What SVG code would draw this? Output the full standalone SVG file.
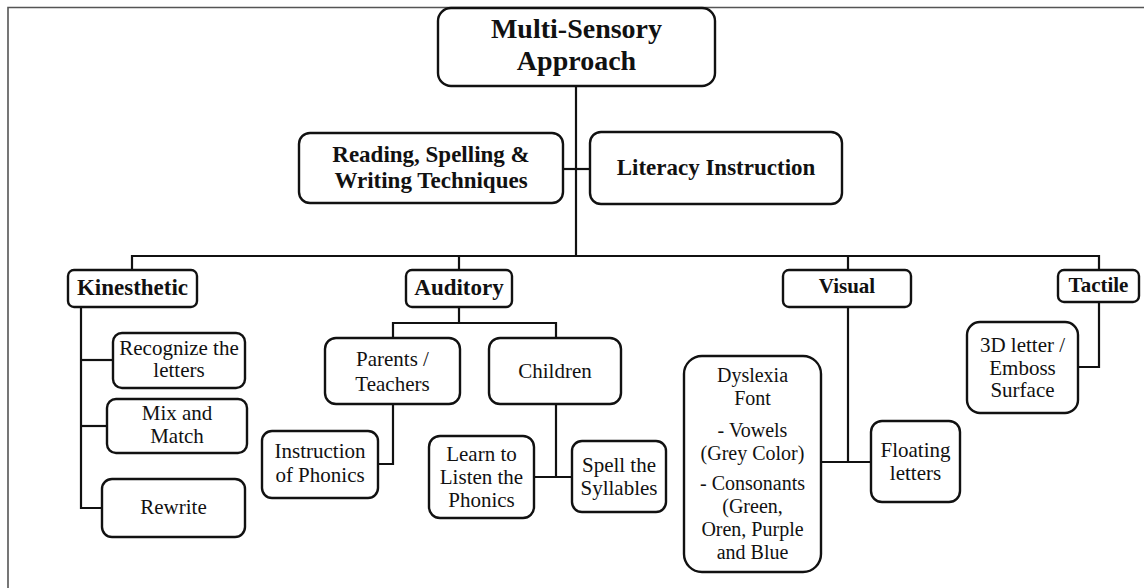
<svg xmlns="http://www.w3.org/2000/svg" width="1144" height="588" viewBox="0 0 1144 588">
<style>
.box{fill:#fff;stroke:#111;stroke-width:2.4}
.ln{fill:none;stroke:#111;stroke-width:2.2}
.frame{fill:none;stroke:#555;stroke-width:1.6}
text{font-family:"Liberation Serif","Times New Roman",serif;fill:#111;text-anchor:middle}
.t1{font-size:28px;font-weight:bold}
.t2{font-size:23px;font-weight:bold}
.t3{font-size:23px;font-weight:bold}
.t3s{font-size:21px;font-weight:bold}
.t4{font-size:21px}
.t5{font-size:20px}
</style>
<rect x="0" y="0" width="1144" height="588" fill="#fff"/>
<path class="frame" d="M8,600 V7.5 H1150"/>
<g id="connectors">
<path class="ln" d="M576,86 V256"/>
<path class="ln" d="M563,169 H590"/>
<path class="ln" d="M132,270 V256 H1099 V270"/>
<path class="ln" d="M459,256 V270"/>
<path class="ln" d="M848,256 V270"/>
<path class="ln" d="M81,307 V508 H102"/>
<path class="ln" d="M81,360 H113"/>
<path class="ln" d="M81,426 H107"/>
<path class="ln" d="M459,307 V323"/>
<path class="ln" d="M393,338 V323 H556 V338"/>
<path class="ln" d="M393,404 V464 H378"/>
<path class="ln" d="M556,404 V477"/>
<path class="ln" d="M534,477 H572"/>
<path class="ln" d="M848,307 V462"/>
<path class="ln" d="M821,462 H871"/>
<path class="ln" d="M1099,302 V367 H1078"/>
</g>
<g id="root">
<rect class="box" x="438" y="8" width="277" height="78" rx="13"/>
<text class="t1" x="576.5" y="38">Multi-Sensory</text>
<text class="t1" x="576.5" y="70">Approach</text>
</g>
<g id="reading">
<rect class="box" x="299" y="133" width="264" height="70" rx="11"/>
<text class="t2" x="431" y="162">Reading, Spelling &amp;</text>
<text class="t2" x="431" y="188">Writing  Techniques</text>
</g>
<g id="literacy">
<rect class="box" x="590" y="132" width="252" height="72" rx="11"/>
<text class="t2" x="716" y="175">Literacy Instruction</text>
</g>
<g id="kinesthetic">
<rect class="box" x="68" y="270" width="129" height="37" rx="6"/>
<text class="t3" x="132.5" y="295">Kinesthetic</text>
</g>
<g id="auditory">
<rect class="box" x="406" y="270" width="106" height="37" rx="6"/>
<text class="t3" x="459" y="295">Auditory</text>
</g>
<g id="visual">
<rect class="box" x="783" y="270" width="128" height="37" rx="6"/>
<text class="t3s" x="847" y="293">Visual</text>
</g>
<g id="tactile">
<rect class="box" x="1058" y="270" width="81" height="32" rx="6"/>
<text class="t3s" x="1098.5" y="292">Tactile</text>
</g>
<g id="recognize">
<rect class="box" x="113" y="333" width="132" height="55" rx="9"/>
<text class="t4" x="179" y="355">Recognize the</text>
<text class="t4" x="179" y="377">letters</text>
</g>
<g id="mixmatch">
<rect class="box" x="107" y="399" width="140" height="54" rx="9"/>
<text class="t4" x="177" y="420">Mix and</text>
<text class="t4" x="177" y="443">Match</text>
</g>
<g id="rewrite">
<rect class="box" x="102" y="479" width="143" height="58" rx="10"/>
<text class="t4" x="173.5" y="514">Rewrite</text>
</g>
<g id="parents">
<rect class="box" x="325" y="338" width="135" height="66" rx="11"/>
<text class="t4" x="392.5" y="366">Parents /</text>
<text class="t4" x="392.5" y="391">Teachers</text>
</g>
<g id="children">
<rect class="box" x="489" y="338" width="132" height="66" rx="11"/>
<text class="t4" x="555" y="378">Children</text>
</g>
<g id="instruction">
<rect class="box" x="262" y="431" width="116" height="67" rx="10"/>
<text class="t4" x="320" y="458">Instruction</text>
<text class="t4" x="320" y="482">of Phonics</text>
</g>
<g id="learn">
<rect class="box" x="429" y="436" width="105" height="82" rx="11"/>
<text class="t4" x="481.5" y="461">Learn to</text>
<text class="t4" x="481.5" y="484">Listen the</text>
<text class="t4" x="481.5" y="507">Phonics</text>
</g>
<g id="spell">
<rect class="box" x="572" y="441" width="94" height="71" rx="10"/>
<text class="t4" x="619" y="472">Spell the</text>
<text class="t4" x="619" y="495">Syllables</text>
</g>
<g id="dyslexia">
<rect class="box" x="684" y="356" width="137" height="216" rx="18"/>
<text class="t5" x="752.5" y="382">Dyslexia</text>
<text class="t5" x="752.5" y="405">Font</text>
<text class="t5" x="752.5" y="437">- Vowels</text>
<text class="t5" x="752.5" y="460">(Grey Color)</text>
<text class="t5" x="752.5" y="490">- Consonants</text>
<text class="t5" x="752.5" y="513">(Green,</text>
<text class="t5" x="752.5" y="536">Oren, Purple</text>
<text class="t5" x="752.5" y="559">and Blue</text>
</g>
<g id="floating">
<rect class="box" x="871" y="421" width="89" height="81" rx="11"/>
<text class="t4" x="915.5" y="457">Floating</text>
<text class="t4" x="915.5" y="480">letters</text>
</g>
<g id="emboss">
<rect class="box" x="967" y="322" width="111" height="91" rx="13"/>
<text class="t4" x="1022.5" y="352">3D letter /</text>
<text class="t4" x="1022.5" y="375">Emboss</text>
<text class="t4" x="1022.5" y="397">Surface</text>
</g>
</svg>
